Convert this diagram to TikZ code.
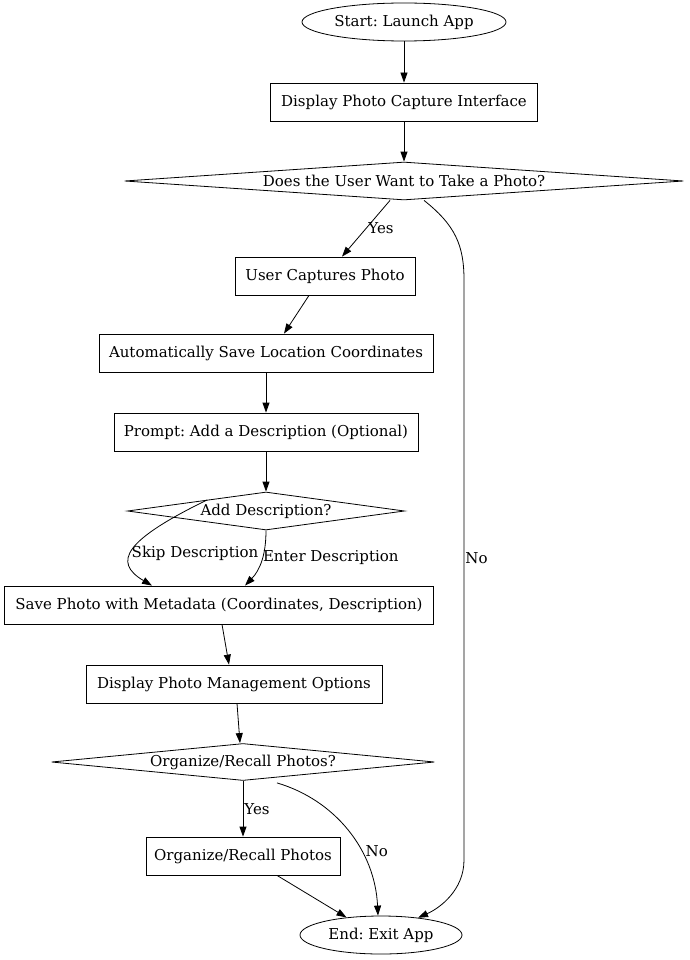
\documentclass[tikz,border=0pt]{standalone}
\usepackage{fontspec}
\setmainfont{DejaVu Serif}
\usetikzlibrary{shapes.geometric,arrows.meta,positioning}
\tikzset{
  stepbox/.style={ draw, rectangle, inner sep=0pt, minimum height=38pt }
}
\tikzset{
  termin/.style={ draw, ellipse, inner sep=0pt, minimum height=38pt }
}
\tikzset{
  decide/.style={ draw, diamond, inner xsep=0pt, inner ysep=-4pt, aspect=12 }
}
\tikzset{
  arr/.style={ -{Triangle[length=10pt,width=7pt]}, line width=0.8pt }
}
\frenchspacing

\begin{document}
\begin{tikzpicture}[x=1pt, y=-1pt, font=\fontsize{15}{17}\selectfont, line width=0.8pt]
      \useasboundingbox (0,0) rectangle (689,960);

      \node[termin, minimum width=204pt] (start) at (404, 22) {Start: Launch App};
      \node[stepbox, minimum width=267pt] (disp) at (404, 102) {Display Photo Capture Interface};
      \node[decide, minimum width=559pt, minimum height=38pt] (askphoto) at (404, 181) {Does the User Want to Take a Photo?};
      \node[stepbox, minimum width=180pt] (capture) at (325, 276) {User Captures Photo};
      \node[stepbox, minimum width=334pt] (autosave) at (266, 353) {Automatically Save Location Coordinates};
      \node[stepbox, minimum width=304pt] (prompt) at (266, 432) {Prompt: Add a Description (Optional)};
      \node[decide, minimum width=277pt, minimum height=38pt] (askdesc) at (266, 511) {Add Description?};
      \node[stepbox, minimum width=429pt] (save) at (219, 605) {Save Photo with Metadata (Coordinates, Description)};
      \node[stepbox, minimum width=296pt] (manage) at (234, 684) {Display Photo Management Options};
      \node[decide, minimum width=383pt, minimum height=37pt] (askorg) at (243, 762) {Organize/Recall Photos?};
      \node[stepbox, minimum width=194pt] (organize) at (243, 856) {Organize/Recall Photos};
      \node[termin, minimum width=162pt] (exit) at (381, 935) {End: Exit App};

      \draw[arr] (start) -- (disp);
      \draw[arr] (disp) -- (askphoto);
      \draw[arr] ([xshift=-14pt]askphoto.south) -- node[midway, right, inner sep=2pt] {Yes} ([xshift=17pt]capture.north);
      \draw[arr] ([xshift=20pt]askphoto.south) .. controls (455,225) and (464,245) .. (464,280)
        -- node[pos=0.48, right, inner sep=1pt] {No} (464,860) .. controls (464,890) and (440,908) .. (exit.25);
      \draw[arr] ([xshift=-16pt]capture.south) -- ([xshift=18pt]autosave.north);
      \draw[arr] (autosave) -- (prompt);
      \draw[arr] (prompt) -- (askdesc);
      \draw[arr] ([xshift=-59pt,yshift=11pt]askdesc.center) .. controls (125,540) and (112,562) .. node[pos=0.56, right, inner sep=0pt] {Skip Description} ([xshift=-67pt]save.north);
      \draw[arr] (askdesc.south) .. controls (266,555) and (260,570) .. node[pos=0.42, right, inner sep=0pt] {Enter Description} ([xshift=26pt]save.north);
      \draw[arr] ([xshift=3pt]save.south) -- ([xshift=-5pt]manage.north);
      \draw[arr] ([xshift=3pt]manage.south) -- ([xshift=-3pt]askorg.north);
      \draw[arr] (askorg.south) -- node[pos=0.5, right, inner sep=1pt] {Yes} (organize.north);
      \draw[arr] ([xshift=34pt,yshift=-2pt]askorg.south) .. controls (335,800) and (375,850) .. node[pos=0.64, right, inner sep=4pt] {No} ([xshift=-3pt]exit.north);
      \draw[arr] ([xshift=34pt]organize.south) -- (exit.153);
    \end{tikzpicture}
\end{document}
